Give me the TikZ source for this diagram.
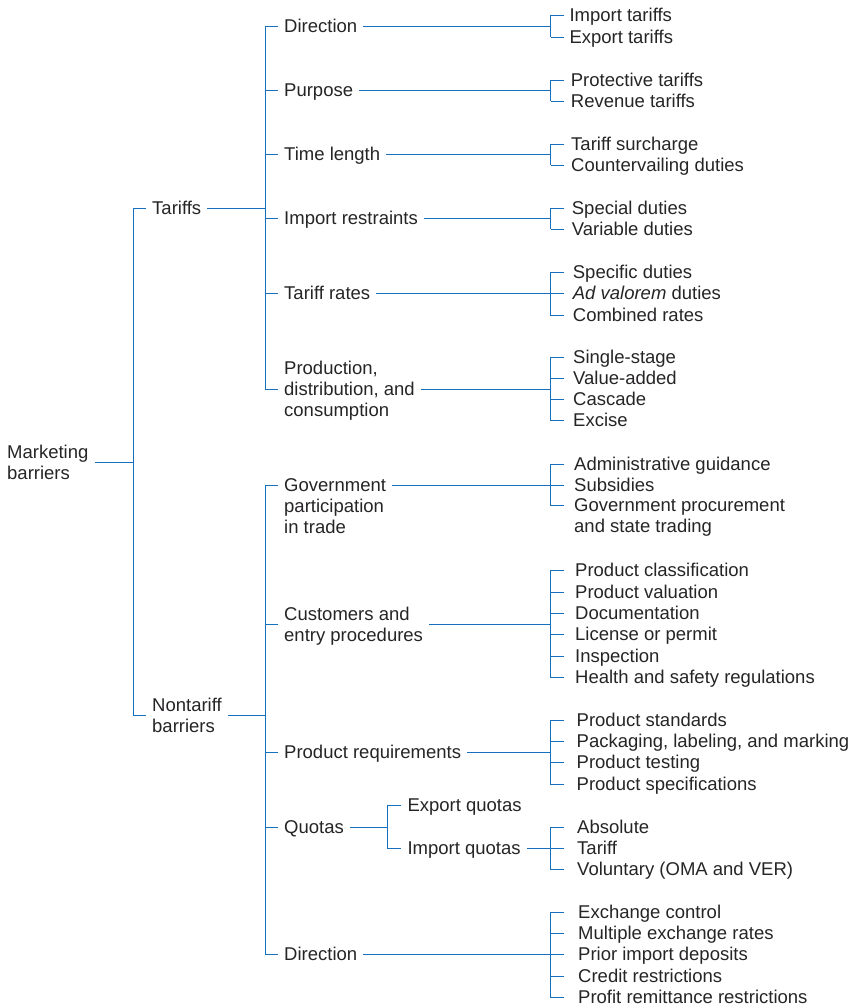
\documentclass[tikz,border=0pt]{standalone}
\usepackage{fontspec}
\setmainfont{Liberation Sans}
\definecolor{lineblue}{RGB}{22,112,190}
\definecolor{txtgray}{RGB}{38,36,38}
\newcommand\fsz{\fontsize{18.5}{21}\selectfont}
\newcommand\twol[2]{\vtop{\hbox{#1}\hbox{#2}}}
\newcommand\threel[3]{\vtop{\hbox{#1}\hbox{#2}\hbox{#3}}}
\begin{document}
\begin{tikzpicture}[x=1pt,y=-1pt,
  lbl/.style={anchor=west,inner xsep=6pt,inner ysep=0pt,text height=12.8pt,text depth=0pt,text=txtgray,font=\fsz},
  leaf/.style={anchor=west,inner ysep=0pt,text height=12.8pt,text depth=0pt,text=txtgray,font=\fsz},
  conn/.style={draw=lineblue,line width=1.8pt}]
\useasboundingbox (0,0) rectangle (855,1008);

% ---------- level 0 ----------
\node[lbl,text depth=21pt] (mb) at (1,462.5) {\twol{Marketing}{barriers}};

% ---------- level 1 ----------
\node[lbl] (tariffs) at (146,208.5) {Tariffs};
\node[lbl,text depth=21pt] (nontariff) at (146,715.5) {\twol{Nontariff}{barriers}};

\draw[conn] (mb.east) -- (133.5,462.5);
\draw[conn] (tariffs.west) -| (133.5,715.5) -- (nontariff.west);

% ---------- level 2: tariffs ----------
\node[lbl] (t1) at (278,26.5) {Direction};
\node[lbl] (t2) at (278,90.5) {Purpose};
\node[lbl] (t3) at (278,154.5) {Time length};
\node[lbl] (t4) at (278,218.5) {Import restraints};
\node[lbl] (t5) at (278,293.5) {Tariff rates};
\node[lbl,text depth=42pt] (t6) at (278,389.5) {\threel{Production,}{distribution, and}{consumption}};

\draw[conn] (tariffs.east) -- (265.5,208.5);
\draw[conn] (t1.west) -| (265.5,389.5) -- (t6.west);
\foreach \n/\yy in {t2/90.5,t3/154.5,t4/218.5,t5/293.5}{
  \draw[conn] (265.5,\yy) -- (\n.west);
}

% ---------- level 2: nontariff ----------
\node[lbl] (n1) at (278,485.5) {\threel{Government}{participation}{in trade}};
\node[lbl,text depth=21pt] (n2) at (278,624.5) {\twol{Customers and}{entry procedures}};
\node[lbl] (n3) at (278,752.5) {Product requirements};
\node[lbl] (n4) at (278,827.5) {Quotas};
\node[lbl] (n5) at (278,954.5) {Direction};

\draw[conn] (nontariff.east) -- (265.5,715.5);
\draw[conn] (n1.west) -| (265.5,954.5) -- (n5.west);
\foreach \n/\yy in {n2/624.5,n3/752.5,n4/827.5}{
  \draw[conn] (265.5,\yy) -- (\n.west);
}

% ---------- quotas ----------
\node[lbl] (q1) at (401.3,805.5) {Export quotas};
\node[lbl] (q2) at (401.3,848.5) {Import quotas};
\draw[conn] (n4.east) -- (387.5,827.5);
\draw[conn] (q1.west) -| (387.5,848.5) -- (q2.west);

% ---------- leaf groups ----------
% \leafgroup{prefix}{parent}{junction y}{inner xsep}{last y}{list}
\newcommand\leafgroup[6]{%
  \foreach \yy/\tt [count=\k] in {#6}{%
    \node[leaf,inner xsep=#4pt] (#1-\k) at (564,\yy) {\tt};
    \draw[conn] (550.5,\yy) -- (#1-\k.west);
  }%
  \draw[conn] (#1-1.west) -| (550.5,#5);
  \draw[conn] (#2.east) -- (550.5,#3);
}

\leafgroup{g1}{t1}{26.5}{5.3}{37.5}{15.5/Import tariffs,37.5/Export tariffs}
\leafgroup{g2}{t2}{90.5}{6.7}{101.5}{80.5/Protective tariffs,101.5/Revenue tariffs}
\leafgroup{g3}{t3}{154.5}{7}{165.5}{144.5/Tariff surcharge,165.5/Countervailing duties}
\leafgroup{g4}{t4}{218.5}{7.7}{229.5}{208.5/Special duties,229.5/Variable duties}
\leafgroup{g5}{t5}{293.5}{8.7}{315.5}{272.5/Specific duties,293.5/{\textit{Ad valorem} duties},315.5/Combined rates}
\leafgroup{g6}{t6}{389.5}{9}{420.5}{357.5/Single-stage,378.5/Value-added,399.5/Cascade,420.5/Excise}
\leafgroup{g7}{n1}{485.5}{10}{505.5}{464.5/Administrative guidance,485.5/Subsidies,505.5/{\twol{Government procurement}{and state trading}}}
\leafgroup{g8}{n2}{624.5}{11}{677.5}{570.5/Product classification,592.5/Product valuation,613.5/Documentation,634.5/License or permit,656.5/Inspection,677.5/Health and safety regulations}
\leafgroup{g9}{n3}{752.5}{12.5}{784.5}{720.5/Product standards,741.5/{Packaging, labeling, and marking},762.5/Product testing,784.5/Product specifications}
\leafgroup{g10}{q2}{848.5}{13}{869.5}{827.5/Absolute,848.5/Tariff,869.5/Voluntary (OMA and VER)}
\leafgroup{g11}{n5}{954.5}{14}{997.5}{912.5/Exchange control,933.5/Multiple exchange rates,954.5/Prior import deposits,976.5/Credit restrictions,997.5/Profit remittance restrictions}
\end{tikzpicture}
\end{document}
